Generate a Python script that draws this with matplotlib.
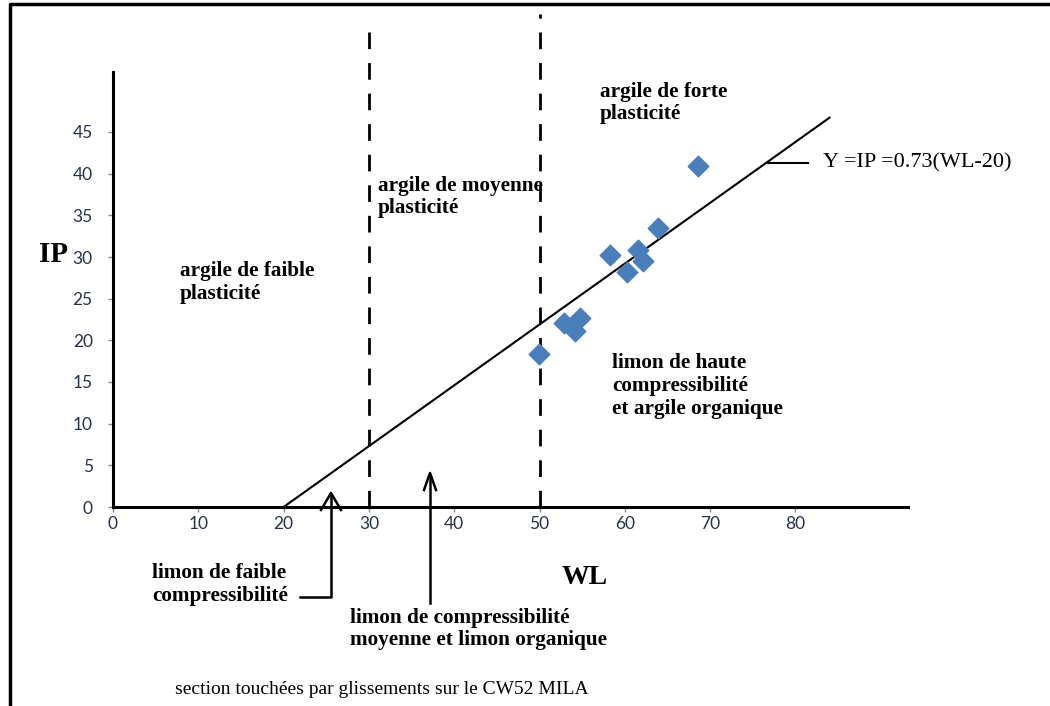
import matplotlib
matplotlib.use("Agg")
import matplotlib.pyplot as plt
from matplotlib.lines import Line2D
import numpy as np

# data
wl = [68.6, 63.9, 58.3, 61.5, 62.1, 60.2, 54.7, 52.9, 54.2, 49.9]
ip = [40.9, 33.5, 30.3, 30.9, 29.5, 28.2, 22.7, 22.1, 21.1, 18.4]
line_wl = [20, 84]
slope = 0.73
x_ticks = [0, 10, 20, 30, 40, 50, 60, 70, 80]
y_ticks = [0, 5, 10, 15, 20, 25, 30, 35, 40, 45]
dashed_wl = [30, 50]

W, H = 1050, 706
fig = plt.figure(figsize=(W / 100, H / 100), dpi=100)
fig.patch.set_facecolor("white")

def fx(px):
    return px / W

def fy(py):
    return 1 - py / H

ax = fig.add_axes([fx(113), fy(507), fx(908) - fx(113), fy(72) - fy(507)])
ax.set_xlim(0, 93.2)
ax.set_ylim(0, 52.2)
for s in ["top", "right"]:
    ax.spines[s].set_visible(False)
for s in ["left", "bottom"]:
    ax.spines[s].set_linewidth(2.2)
    ax.spines[s].set_color("black")
ax.set_xticks(x_ticks)
ax.set_yticks(y_ticks)
tickfont = dict(family="Lato", size=12.5)
ax.set_xticklabels([str(t) for t in x_ticks], **tickfont)
ax.set_yticklabels([str(t) for t in y_ticks], **tickfont)
ax.tick_params(axis="both", colors="#888888", labelcolor="#26324a", length=3.6, width=1)
ax.tick_params(axis="x", pad=3)
ax.tick_params(axis="y", pad=11)

# fitted line
ly = [slope * (x - 20) for x in line_wl]
ax.plot(line_wl, ly, color="black", lw=1.5, clip_on=False)

# dashed lines
for xd in dashed_wl:
    ax.plot([xd, xd], [0, 58.3 if xd == 30 else 59.2], color="black", lw=2,
            ls=(0, (6, 5)), clip_on=False)

# points
ax.scatter(wl, ip, marker="D", s=110, color="#4a7ebb", edgecolors="#4a7ebb", zorder=5, clip_on=False)

bold = dict(family="Liberation Serif", weight="bold", size=15.3, color="black")
ls = 1.2
fig.text(fx(600), fy(103), "argile de forte\nplasticité", va="center", linespacing=ls, **bold)
fig.text(fx(378), fy(197), "argile de moyenne\nplasticité", va="center", linespacing=ls, **bold)
fig.text(fx(180), fy(282), "argile de faible\nplasticité", va="center", linespacing=ls, **bold)
fig.text(fx(612), fy(386), "limon de haute\ncompressibilité\net argile organique", va="center", linespacing=ls, **bold)
fig.text(fx(152), fy(584), "limon de faible\ncompressibilité", va="center", linespacing=ls, **bold)
fig.text(fx(350), fy(629), "limon de compressibilité\nmoyenne et limon organique", va="center", linespacing=ls, **bold)

fig.text(fx(823), fy(163), "Y =IP =0.73(WL-20)", va="center", family="Liberation Serif", size=16, color="black")
fig.text(fx(39), fy(255), "IP", va="center", family="Liberation Serif", weight="bold", size=21, color="black")
fig.text(fx(562), fy(577), "WL", va="center", family="Liberation Serif", weight="bold", size=20, color="black")
fig.text(fx(175), fy(690), "section touchées par glissements sur le CW52 MILA", va="center",
         family="Liberation Serif", size=14, color="black")

# connector line for equation
fig.add_artist(Line2D([fx(768), fx(808)], [fy(163), fy(163)], color="black", lw=1.5))

# arrows
fig.add_artist(Line2D([fx(300), fx(331), fx(331)], [fy(597), fy(597), fy(496)], color="black", lw=1.8))
fig.add_artist(Line2D([fx(321), fx(331), fx(341)], [fy(510), fy(493), fy(510)], color="black", lw=1.8))
fig.add_artist(Line2D([fx(430), fx(430)], [fy(603), fy(476)], color="black", lw=1.8))
fig.add_artist(Line2D([fx(424), fx(430), fx(436)], [fy(490), fy(473), fy(490)], color="black", lw=1.8))

# border
fig.add_artist(Line2D([fx(10), fx(10), fx(1050)], [fy(706), fy(4), fy(4)], color="black", lw=2.5))

fig.savefig("out.png", dpi=100)
